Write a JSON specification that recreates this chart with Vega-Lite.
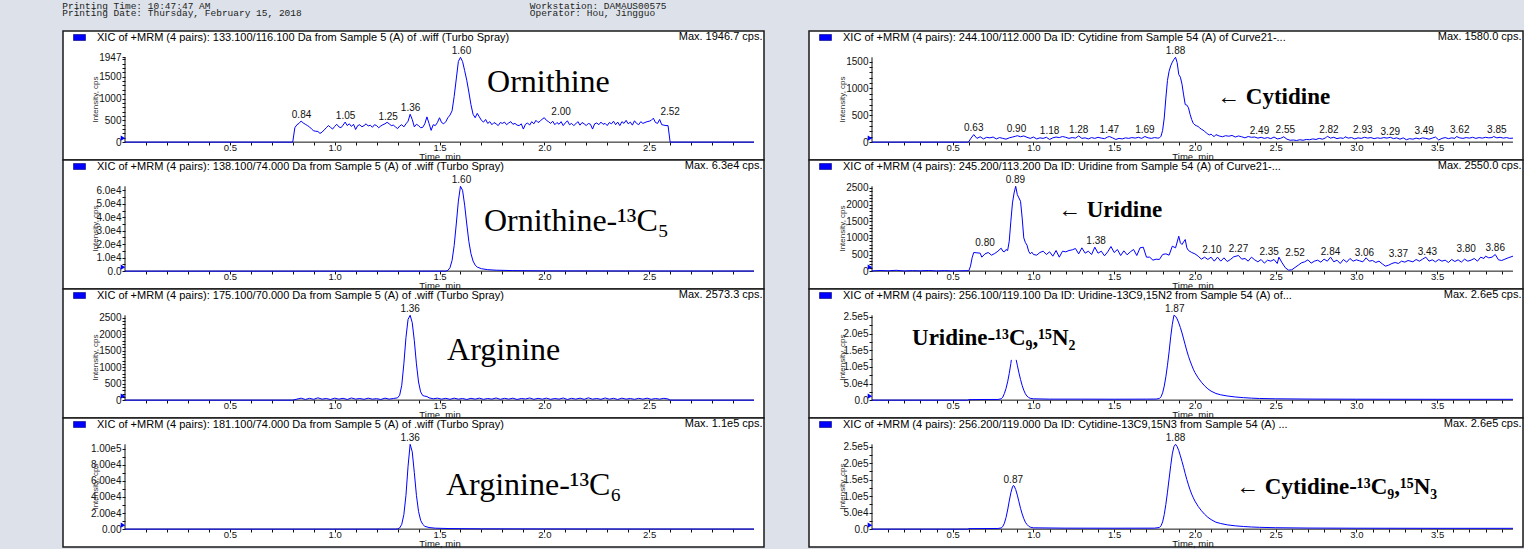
{
"$schema": "https://vega.github.io/schema/vega-lite/v6.json",
"background": "#dde2ea",
"padding": {"left": 62, "top": 0, "right": 0, "bottom": 0},
"title": {"text": ["Printing Time: 10:47:47 AM\u00a0\u00a0\u00a0\u00a0\u00a0\u00a0\u00a0\u00a0\u00a0\u00a0\u00a0\u00a0\u00a0\u00a0\u00a0\u00a0\u00a0\u00a0\u00a0\u00a0\u00a0\u00a0\u00a0\u00a0\u00a0\u00a0\u00a0\u00a0\u00a0\u00a0\u00a0\u00a0\u00a0\u00a0\u00a0\u00a0\u00a0\u00a0\u00a0\u00a0\u00a0\u00a0\u00a0\u00a0\u00a0\u00a0\u00a0\u00a0\u00a0\u00a0\u00a0\u00a0\u00a0\u00a0\u00a0\u00a0Workstation: DAMAUS00575", "Printing Date: Thursday, February 15, 2018\u00a0\u00a0\u00a0\u00a0\u00a0\u00a0\u00a0\u00a0\u00a0\u00a0\u00a0\u00a0\u00a0\u00a0\u00a0\u00a0\u00a0\u00a0\u00a0\u00a0\u00a0\u00a0\u00a0\u00a0\u00a0\u00a0\u00a0\u00a0\u00a0\u00a0\u00a0\u00a0\u00a0\u00a0\u00a0\u00a0\u00a0\u00a0\u00a0\u00a0Operator: Hou, Jingguo"], "anchor": "start", "frame": "bounds", "font": "Liberation Mono", "fontSize": 9.5, "fontWeight": "normal", "color": "#222222", "lineHeight": 7.5, "offset": 12, "baseline": "top"},
"config": {
 "font": "Liberation Sans",
 "view": {"fill": "#ffffff", "stroke": "#1a1a1a", "strokeWidth": 1.5},
 "axis": {"labelFont": "Liberation Sans", "labelFontSize": 10, "labelColor": "#111111", "tickColor": "#111111", "tickWidth": 1, "titleFont": "Liberation Sans", "titleFontWeight": "normal", "titleColor": "#111111", "grid": false, "labelOverlap": false, "labelFlush": false, "labelBound": false},
 "legend": {"orient": "top-left", "offset": 0, "padding": 0, "symbolType": "M-1,-0.5H1V0.5H-1Z", "symbolSize": 144, "symbolOffset": 10, "labelOffset": 11, "labelFont": "Liberation Sans", "labelFontSize": 11, "labelColor": "#000000", "labelLimit": 800, "symbolOpacity": 1, "symbolStrokeColor": "#00007a", "symbolStrokeWidth": 0.6, "rowPadding": 0, "titlePadding": 0},
 "text": {"font": "Liberation Sans"}
},
"datasets": {
 "L1": [{"t":0,"v":0},{"t":0.8,"v":0},{"t":0.81,"v":330},{"t":0.82,"v":400},{"t":0.83,"v":430},{"t":0.84,"v":485},{"t":0.85,"v":440},{"t":0.86,"v":410},{"t":0.87,"v":380},{"t":0.88,"v":350},{"t":0.89,"v":300},{"t":0.9,"v":260},{"t":0.91,"v":250},{"t":0.92,"v":245},{"t":0.93,"v":200},{"t":0.94,"v":230},{"t":0.95,"v":280},{"t":0.96,"v":330},{"t":0.97,"v":380},{"t":0.98,"v":340},{"t":0.99,"v":300},{"t":1.0,"v":360},{"t":1.01,"v":410},{"t":1.02,"v":350},{"t":1.03,"v":330},{"t":1.04,"v":390},{"t":1.05,"v":460},{"t":1.06,"v":380},{"t":1.07,"v":420},{"t":1.08,"v":360},{"t":1.09,"v":410},{"t":1.1,"v":290},{"t":1.11,"v":380},{"t":1.12,"v":400},{"t":1.13,"v":350},{"t":1.14,"v":380},{"t":1.15,"v":420},{"t":1.16,"v":370},{"t":1.17,"v":390},{"t":1.18,"v":340},{"t":1.19,"v":400},{"t":1.2,"v":380},{"t":1.21,"v":330},{"t":1.22,"v":370},{"t":1.23,"v":400},{"t":1.24,"v":420},{"t":1.25,"v":455},{"t":1.26,"v":420},{"t":1.27,"v":380},{"t":1.28,"v":390},{"t":1.29,"v":350},{"t":1.3,"v":310},{"t":1.31,"v":370},{"t":1.32,"v":400},{"t":1.33,"v":350},{"t":1.34,"v":420},{"t":1.35,"v":480},{"t":1.36,"v":640},{"t":1.37,"v":520},{"t":1.38,"v":350},{"t":1.39,"v":410},{"t":1.4,"v":380},{"t":1.41,"v":330},{"t":1.42,"v":340},{"t":1.43,"v":420},{"t":1.44,"v":580},{"t":1.45,"v":430},{"t":1.46,"v":270},{"t":1.47,"v":400},{"t":1.48,"v":380},{"t":1.49,"v":450},{"t":1.5,"v":560},{"t":1.51,"v":450},{"t":1.52,"v":420},{"t":1.53,"v":470},{"t":1.54,"v":560},{"t":1.55,"v":620},{"t":1.56,"v":720},{"t":1.57,"v":1050},{"t":1.58,"v":1450},{"t":1.59,"v":1850},{"t":1.6,"v":1947},{"t":1.61,"v":1850},{"t":1.62,"v":1640},{"t":1.63,"v":1420},{"t":1.64,"v":1150},{"t":1.65,"v":860},{"t":1.66,"v":640},{"t":1.67,"v":560},{"t":1.68,"v":660},{"t":1.69,"v":580},{"t":1.7,"v":500},{"t":1.71,"v":460},{"t":1.72,"v":520},{"t":1.73,"v":430},{"t":1.74,"v":470},{"t":1.75,"v":400},{"t":1.76,"v":450},{"t":1.77,"v":420},{"t":1.78,"v":380},{"t":1.79,"v":450},{"t":1.8,"v":430},{"t":1.81,"v":460},{"t":1.82,"v":400},{"t":1.83,"v":440},{"t":1.84,"v":470},{"t":1.85,"v":410},{"t":1.86,"v":430},{"t":1.87,"v":390},{"t":1.88,"v":380},{"t":1.89,"v":420},{"t":1.9,"v":300},{"t":1.91,"v":410},{"t":1.92,"v":440},{"t":1.93,"v":390},{"t":1.94,"v":470},{"t":1.95,"v":420},{"t":1.96,"v":500},{"t":1.97,"v":450},{"t":1.98,"v":480},{"t":1.99,"v":530},{"t":2.0,"v":560},{"t":2.01,"v":500},{"t":2.02,"v":470},{"t":2.03,"v":430},{"t":2.04,"v":480},{"t":2.05,"v":400},{"t":2.06,"v":450},{"t":2.07,"v":410},{"t":2.08,"v":470},{"t":2.09,"v":380},{"t":2.1,"v":440},{"t":2.11,"v":490},{"t":2.12,"v":400},{"t":2.13,"v":430},{"t":2.14,"v":380},{"t":2.15,"v":420},{"t":2.16,"v":470},{"t":2.17,"v":390},{"t":2.18,"v":450},{"t":2.19,"v":420},{"t":2.2,"v":380},{"t":2.21,"v":430},{"t":2.22,"v":410},{"t":2.23,"v":300},{"t":2.24,"v":420},{"t":2.25,"v":440},{"t":2.26,"v":400},{"t":2.27,"v":460},{"t":2.28,"v":410},{"t":2.29,"v":430},{"t":2.3,"v":380},{"t":2.31,"v":450},{"t":2.32,"v":420},{"t":2.33,"v":480},{"t":2.34,"v":400},{"t":2.35,"v":460},{"t":2.36,"v":380},{"t":2.37,"v":470},{"t":2.38,"v":430},{"t":2.39,"v":500},{"t":2.4,"v":420},{"t":2.41,"v":460},{"t":2.42,"v":390},{"t":2.43,"v":490},{"t":2.44,"v":430},{"t":2.45,"v":400},{"t":2.46,"v":470},{"t":2.47,"v":430},{"t":2.48,"v":450},{"t":2.49,"v":470},{"t":2.5,"v":480},{"t":2.51,"v":500},{"t":2.52,"v":550},{"t":2.53,"v":450},{"t":2.54,"v":430},{"t":2.55,"v":520},{"t":2.56,"v":400},{"t":2.57,"v":390},{"t":2.58,"v":380},{"t":2.59,"v":380},{"t":2.6,"v":0},{"t":3.0,"v":0}],
 "L2": [{"t":0,"v":0},{"t":1.53,"v":0},{"t":1.54,"v":600},{"t":1.55,"v":2500},{"t":1.56,"v":8000},{"t":1.57,"v":19000},{"t":1.58,"v":35000},{"t":1.59,"v":52000},{"t":1.6,"v":63000},{"t":1.61,"v":60000},{"t":1.62,"v":49000},{"t":1.63,"v":35000},{"t":1.64,"v":22000},{"t":1.65,"v":13000},{"t":1.66,"v":7500},{"t":1.67,"v":4500},{"t":1.68,"v":3000},{"t":1.7,"v":1800},{"t":1.73,"v":1100},{"t":1.77,"v":700},{"t":1.85,"v":400},{"t":2.0,"v":200},{"t":2.5,"v":100},{"t":3.0,"v":60}],
 "L3": [{"t":0,"v":0},{"t":0.8,"v":0},{"t":0.82,"v":30},{"t":0.84,"v":60},{"t":0.86,"v":20},{"t":0.88,"v":55},{"t":0.9,"v":25},{"t":0.92,"v":70},{"t":0.94,"v":30},{"t":0.96,"v":50},{"t":0.98,"v":20},{"t":1.0,"v":60},{"t":1.02,"v":30},{"t":1.04,"v":55},{"t":1.06,"v":20},{"t":1.08,"v":65},{"t":1.1,"v":30},{"t":1.12,"v":50},{"t":1.14,"v":25},{"t":1.16,"v":60},{"t":1.18,"v":30},{"t":1.2,"v":45},{"t":1.22,"v":20},{"t":1.24,"v":60},{"t":1.26,"v":30},{"t":1.28,"v":50},{"t":1.3,"v":70},{"t":1.31,"v":150},{"t":1.32,"v":450},{"t":1.33,"v":1100},{"t":1.34,"v":1900},{"t":1.35,"v":2450},{"t":1.36,"v":2573.3},{"t":1.37,"v":2350},{"t":1.38,"v":1800},{"t":1.39,"v":1100},{"t":1.4,"v":550},{"t":1.41,"v":250},{"t":1.42,"v":140},{"t":1.43,"v":120},{"t":1.44,"v":110},{"t":1.45,"v":70},{"t":1.47,"v":40},{"t":1.49,"v":60},{"t":1.51,"v":30},{"t":1.53,"v":55},{"t":1.55,"v":25},{"t":1.57,"v":60},{"t":1.59,"v":30},{"t":1.61,"v":50},{"t":1.63,"v":20},{"t":1.65,"v":55},{"t":1.67,"v":30},{"t":1.69,"v":60},{"t":1.71,"v":25},{"t":1.73,"v":50},{"t":1.75,"v":30},{"t":1.77,"v":65},{"t":1.79,"v":25},{"t":1.81,"v":55},{"t":1.83,"v":30},{"t":1.85,"v":60},{"t":1.87,"v":20},{"t":1.89,"v":50},{"t":1.91,"v":35},{"t":1.93,"v":65},{"t":1.95,"v":25},{"t":1.97,"v":55},{"t":1.99,"v":30},{"t":2.01,"v":60},{"t":2.03,"v":25},{"t":2.05,"v":50},{"t":2.07,"v":30},{"t":2.09,"v":65},{"t":2.11,"v":20},{"t":2.13,"v":55},{"t":2.15,"v":30},{"t":2.17,"v":60},{"t":2.19,"v":25},{"t":2.21,"v":70},{"t":2.23,"v":30},{"t":2.25,"v":50},{"t":2.27,"v":25},{"t":2.29,"v":65},{"t":2.31,"v":30},{"t":2.33,"v":55},{"t":2.35,"v":20},{"t":2.37,"v":60},{"t":2.39,"v":30},{"t":2.41,"v":50},{"t":2.43,"v":25},{"t":2.45,"v":55},{"t":2.47,"v":30},{"t":2.49,"v":60},{"t":2.51,"v":25},{"t":2.53,"v":50},{"t":2.55,"v":30},{"t":2.57,"v":55},{"t":2.59,"v":35},{"t":2.6,"v":0},{"t":3.0,"v":0}],
 "L4": [{"t":0,"v":0},{"t":1.29,"v":0},{"t":1.3,"v":300},{"t":1.31,"v":1500},{"t":1.32,"v":6000},{"t":1.33,"v":18000},{"t":1.34,"v":42000},{"t":1.35,"v":78000},{"t":1.36,"v":105300},{"t":1.37,"v":96000},{"t":1.38,"v":70000},{"t":1.39,"v":42000},{"t":1.4,"v":22000},{"t":1.41,"v":11000},{"t":1.42,"v":6000},{"t":1.43,"v":3500},{"t":1.45,"v":2000},{"t":1.48,"v":1200},{"t":1.55,"v":700},{"t":1.7,"v":400},{"t":2.0,"v":250},{"t":2.5,"v":150},{"t":3.0,"v":100}],
 "R1": [{"t":0,"v":0},{"t":0.59,"v":0},{"t":0.6,"v":10},{"t":0.61,"v":60},{"t":0.63,"v":140},{"t":0.65,"v":70},{"t":0.67,"v":100},{"t":0.69,"v":60},{"t":0.71,"v":90},{"t":0.73,"v":80},{"t":0.75,"v":95},{"t":0.77,"v":60},{"t":0.79,"v":85},{"t":0.81,"v":70},{"t":0.83,"v":55},{"t":0.85,"v":80},{"t":0.87,"v":95},{"t":0.89,"v":110},{"t":0.9,"v":120},{"t":0.92,"v":100},{"t":0.94,"v":115},{"t":0.96,"v":90},{"t":0.98,"v":70},{"t":1.0,"v":95},{"t":1.02,"v":60},{"t":1.04,"v":80},{"t":1.06,"v":70},{"t":1.08,"v":90},{"t":1.1,"v":50},{"t":1.12,"v":80},{"t":1.14,"v":95},{"t":1.16,"v":85},{"t":1.18,"v":105},{"t":1.2,"v":90},{"t":1.22,"v":70},{"t":1.24,"v":85},{"t":1.26,"v":75},{"t":1.28,"v":115},{"t":1.3,"v":70},{"t":1.32,"v":80},{"t":1.34,"v":60},{"t":1.36,"v":85},{"t":1.38,"v":70},{"t":1.4,"v":90},{"t":1.42,"v":75},{"t":1.44,"v":65},{"t":1.46,"v":95},{"t":1.47,"v":105},{"t":1.49,"v":80},{"t":1.51,"v":50},{"t":1.53,"v":70},{"t":1.55,"v":60},{"t":1.57,"v":80},{"t":1.59,"v":70},{"t":1.61,"v":85},{"t":1.63,"v":75},{"t":1.65,"v":90},{"t":1.67,"v":70},{"t":1.69,"v":105},{"t":1.71,"v":80},{"t":1.73,"v":70},{"t":1.75,"v":85},{"t":1.77,"v":75},{"t":1.78,"v":80},{"t":1.79,"v":110},{"t":1.8,"v":220},{"t":1.81,"v":450},{"t":1.82,"v":820},{"t":1.83,"v":1150},{"t":1.84,"v":1320},{"t":1.85,"v":1420},{"t":1.86,"v":1490},{"t":1.87,"v":1540},{"t":1.88,"v":1580},{"t":1.89,"v":1480},{"t":1.9,"v":1260},{"t":1.91,"v":1210},{"t":1.92,"v":1080},{"t":1.93,"v":880},{"t":1.94,"v":700},{"t":1.95,"v":690},{"t":1.96,"v":640},{"t":1.97,"v":520},{"t":1.98,"v":420},{"t":1.99,"v":350},{"t":2.0,"v":320},{"t":2.01,"v":305},{"t":2.02,"v":290},{"t":2.03,"v":265},{"t":2.04,"v":240},{"t":2.05,"v":225},{"t":2.06,"v":200},{"t":2.07,"v":175},{"t":2.08,"v":150},{"t":2.09,"v":135},{"t":2.1,"v":150},{"t":2.11,"v":120},{"t":2.12,"v":105},{"t":2.13,"v":140},{"t":2.15,"v":115},{"t":2.17,"v":100},{"t":2.19,"v":120},{"t":2.21,"v":110},{"t":2.23,"v":125},{"t":2.25,"v":95},{"t":2.27,"v":115},{"t":2.29,"v":100},{"t":2.31,"v":80},{"t":2.33,"v":105},{"t":2.35,"v":90},{"t":2.37,"v":95},{"t":2.39,"v":75},{"t":2.41,"v":90},{"t":2.43,"v":70},{"t":2.45,"v":85},{"t":2.47,"v":65},{"t":2.49,"v":95},{"t":2.51,"v":60},{"t":2.53,"v":70},{"t":2.55,"v":100},{"t":2.57,"v":55},{"t":2.59,"v":35},{"t":2.61,"v":40},{"t":2.63,"v":30},{"t":2.65,"v":45},{"t":2.67,"v":35},{"t":2.69,"v":50},{"t":2.71,"v":45},{"t":2.73,"v":60},{"t":2.75,"v":50},{"t":2.77,"v":70},{"t":2.79,"v":55},{"t":2.81,"v":80},{"t":2.82,"v":110},{"t":2.84,"v":75},{"t":2.86,"v":90},{"t":2.88,"v":65},{"t":2.9,"v":80},{"t":2.92,"v":70},{"t":2.93,"v":100},{"t":2.95,"v":75},{"t":2.97,"v":85},{"t":2.99,"v":60},{"t":3.01,"v":80},{"t":3.03,"v":70},{"t":3.05,"v":90},{"t":3.07,"v":75},{"t":3.09,"v":85},{"t":3.11,"v":65},{"t":3.13,"v":80},{"t":3.15,"v":70},{"t":3.17,"v":85},{"t":3.19,"v":75},{"t":3.21,"v":90},{"t":3.23,"v":65},{"t":3.25,"v":80},{"t":3.27,"v":55},{"t":3.29,"v":80},{"t":3.31,"v":45},{"t":3.33,"v":65},{"t":3.35,"v":55},{"t":3.37,"v":75},{"t":3.39,"v":60},{"t":3.41,"v":80},{"t":3.43,"v":70},{"t":3.45,"v":55},{"t":3.47,"v":75},{"t":3.49,"v":95},{"t":3.51,"v":40},{"t":3.53,"v":70},{"t":3.55,"v":85},{"t":3.57,"v":65},{"t":3.59,"v":80},{"t":3.61,"v":70},{"t":3.62,"v":105},{"t":3.64,"v":80},{"t":3.66,"v":70},{"t":3.68,"v":85},{"t":3.7,"v":75},{"t":3.72,"v":90},{"t":3.74,"v":70},{"t":3.76,"v":85},{"t":3.78,"v":75},{"t":3.8,"v":90},{"t":3.82,"v":80},{"t":3.84,"v":85},{"t":3.85,"v":105},{"t":3.87,"v":80},{"t":3.89,"v":90},{"t":3.91,"v":75},{"t":3.93,"v":85},{"t":3.95,"v":70},{"t":3.97,"v":75}],
 "R2": [{"t":0,"v":5},{"t":0.05,"v":20},{"t":0.1,"v":10},{"t":0.15,"v":25},{"t":0.2,"v":5},{"t":0.25,"v":15},{"t":0.3,"v":8},{"t":0.35,"v":20},{"t":0.4,"v":5},{"t":0.45,"v":15},{"t":0.5,"v":5},{"t":0.55,"v":10},{"t":0.6,"v":15},{"t":0.61,"v":150},{"t":0.62,"v":400},{"t":0.63,"v":560},{"t":0.65,"v":550},{"t":0.67,"v":540},{"t":0.68,"v":420},{"t":0.7,"v":520},{"t":0.72,"v":560},{"t":0.74,"v":480},{"t":0.76,"v":530},{"t":0.78,"v":600},{"t":0.8,"v":690},{"t":0.81,"v":600},{"t":0.82,"v":580},{"t":0.83,"v":650},{"t":0.84,"v":620},{"t":0.85,"v":900},{"t":0.86,"v":1500},{"t":0.87,"v":2050},{"t":0.88,"v":2350},{"t":0.89,"v":2550},{"t":0.9,"v":2300},{"t":0.91,"v":2200},{"t":0.92,"v":2100},{"t":0.93,"v":1600},{"t":0.94,"v":1000},{"t":0.95,"v":860},{"t":0.96,"v":780},{"t":0.97,"v":600},{"t":0.98,"v":520},{"t":0.99,"v":570},{"t":1.0,"v":500},{"t":1.02,"v":480},{"t":1.04,"v":560},{"t":1.06,"v":600},{"t":1.08,"v":500},{"t":1.1,"v":580},{"t":1.12,"v":450},{"t":1.14,"v":620},{"t":1.16,"v":420},{"t":1.18,"v":600},{"t":1.2,"v":580},{"t":1.22,"v":620},{"t":1.24,"v":640},{"t":1.26,"v":680},{"t":1.28,"v":520},{"t":1.3,"v":700},{"t":1.32,"v":540},{"t":1.34,"v":600},{"t":1.36,"v":500},{"t":1.38,"v":720},{"t":1.4,"v":540},{"t":1.42,"v":600},{"t":1.44,"v":460},{"t":1.46,"v":580},{"t":1.48,"v":740},{"t":1.5,"v":560},{"t":1.52,"v":650},{"t":1.54,"v":470},{"t":1.56,"v":610},{"t":1.58,"v":490},{"t":1.6,"v":580},{"t":1.62,"v":650},{"t":1.64,"v":470},{"t":1.66,"v":700},{"t":1.68,"v":720},{"t":1.7,"v":420},{"t":1.72,"v":420},{"t":1.74,"v":330},{"t":1.76,"v":360},{"t":1.78,"v":350},{"t":1.8,"v":500},{"t":1.82,"v":520},{"t":1.84,"v":480},{"t":1.86,"v":750},{"t":1.88,"v":700},{"t":1.9,"v":1050},{"t":1.91,"v":850},{"t":1.92,"v":800},{"t":1.93,"v":880},{"t":1.94,"v":950},{"t":1.95,"v":700},{"t":1.96,"v":620},{"t":1.98,"v":560},{"t":2.0,"v":520},{"t":2.02,"v":450},{"t":2.04,"v":360},{"t":2.06,"v":420},{"t":2.08,"v":350},{"t":2.1,"v":420},{"t":2.12,"v":300},{"t":2.14,"v":420},{"t":2.16,"v":300},{"t":2.18,"v":400},{"t":2.2,"v":290},{"t":2.22,"v":350},{"t":2.24,"v":430},{"t":2.27,"v":470},{"t":2.29,"v":360},{"t":2.31,"v":380},{"t":2.33,"v":300},{"t":2.35,"v":420},{"t":2.37,"v":340},{"t":2.39,"v":280},{"t":2.41,"v":350},{"t":2.43,"v":240},{"t":2.45,"v":330},{"t":2.47,"v":300},{"t":2.49,"v":350},{"t":2.51,"v":230},{"t":2.52,"v":420},{"t":2.54,"v":250},{"t":2.56,"v":100},{"t":2.58,"v":30},{"t":2.6,"v":40},{"t":2.62,"v":110},{"t":2.64,"v":180},{"t":2.66,"v":250},{"t":2.68,"v":280},{"t":2.7,"v":340},{"t":2.72,"v":240},{"t":2.74,"v":300},{"t":2.76,"v":330},{"t":2.78,"v":270},{"t":2.8,"v":360},{"t":2.82,"v":300},{"t":2.84,"v":420},{"t":2.86,"v":280},{"t":2.88,"v":330},{"t":2.9,"v":230},{"t":2.92,"v":350},{"t":2.94,"v":270},{"t":2.96,"v":380},{"t":2.98,"v":300},{"t":3.0,"v":340},{"t":3.02,"v":310},{"t":3.04,"v":280},{"t":3.06,"v":400},{"t":3.08,"v":300},{"t":3.1,"v":320},{"t":3.12,"v":260},{"t":3.14,"v":300},{"t":3.16,"v":220},{"t":3.18,"v":150},{"t":3.2,"v":180},{"t":3.22,"v":230},{"t":3.24,"v":260},{"t":3.26,"v":230},{"t":3.28,"v":300},{"t":3.3,"v":270},{"t":3.32,"v":320},{"t":3.35,"v":280},{"t":3.37,"v":350},{"t":3.39,"v":300},{"t":3.41,"v":360},{"t":3.43,"v":420},{"t":3.45,"v":300},{"t":3.47,"v":340},{"t":3.49,"v":280},{"t":3.51,"v":350},{"t":3.53,"v":300},{"t":3.55,"v":330},{"t":3.57,"v":260},{"t":3.59,"v":350},{"t":3.61,"v":290},{"t":3.63,"v":340},{"t":3.65,"v":270},{"t":3.67,"v":360},{"t":3.69,"v":300},{"t":3.71,"v":330},{"t":3.73,"v":380},{"t":3.75,"v":300},{"t":3.77,"v":420},{"t":3.79,"v":380},{"t":3.8,"v":450},{"t":3.82,"v":400},{"t":3.84,"v":420},{"t":3.86,"v":500},{"t":3.88,"v":340},{"t":3.9,"v":320},{"t":3.92,"v":360},{"t":3.94,"v":400},{"t":3.97,"v":450}],
 "R3": [{"t":0,"v":0},{"t":0.59,"v":0},{"t":0.6,"v":1500},{"t":0.7,"v":2000},{"t":0.78,"v":2000},{"t":0.8,"v":4000},{"t":0.81,"v":9000},{"t":0.82,"v":20000},{"t":0.83,"v":35000},{"t":0.84,"v":55000},{"t":0.85,"v":80000},{"t":0.86,"v":110000},{"t":0.863,"v":121000},{"t":0.878,"v":null},{"t":0.893,"v":121000},{"t":0.9,"v":105000},{"t":0.91,"v":82000},{"t":0.92,"v":62000},{"t":0.93,"v":44000},{"t":0.94,"v":30000},{"t":0.95,"v":19000},{"t":0.96,"v":12000},{"t":0.97,"v":8000},{"t":0.98,"v":5500},{"t":1.0,"v":4000},{"t":1.1,"v":3000},{"t":1.3,"v":3000},{"t":1.5,"v":2800},{"t":1.7,"v":3000},{"t":1.76,"v":3200},{"t":1.78,"v":5000},{"t":1.79,"v":10000},{"t":1.8,"v":22000},{"t":1.81,"v":42000},{"t":1.82,"v":70000},{"t":1.83,"v":105000},{"t":1.84,"v":145000},{"t":1.85,"v":190000},{"t":1.86,"v":228000},{"t":1.87,"v":255000},{"t":1.88,"v":252000},{"t":1.89,"v":244000},{"t":1.9,"v":232000},{"t":1.91,"v":218000},{"t":1.92,"v":202000},{"t":1.93,"v":184000},{"t":1.94,"v":166000},{"t":1.95,"v":148000},{"t":1.96,"v":132000},{"t":1.97,"v":118000},{"t":1.98,"v":105000},{"t":1.99,"v":93000},{"t":2.0,"v":83000},{"t":2.02,"v":67000},{"t":2.04,"v":54000},{"t":2.06,"v":43000},{"t":2.08,"v":34000},{"t":2.1,"v":27000},{"t":2.13,"v":20000},{"t":2.16,"v":16000},{"t":2.2,"v":12500},{"t":2.25,"v":9500},{"t":2.3,"v":7500},{"t":2.35,"v":6000},{"t":2.4,"v":5000},{"t":2.5,"v":4000},{"t":2.7,"v":3200},{"t":3.0,"v":2800},{"t":3.5,"v":2500},{"t":3.97,"v":2500}],
 "R4": [{"t":0,"v":0},{"t":0.59,"v":0},{"t":0.6,"v":1500},{"t":0.78,"v":2000},{"t":0.8,"v":3500},{"t":0.81,"v":8000},{"t":0.82,"v":18000},{"t":0.83,"v":35000},{"t":0.84,"v":58000},{"t":0.85,"v":85000},{"t":0.86,"v":110000},{"t":0.87,"v":128000},{"t":0.875,"v":132000},{"t":0.88,"v":131000},{"t":0.89,"v":120000},{"t":0.9,"v":103000},{"t":0.91,"v":83000},{"t":0.92,"v":63000},{"t":0.93,"v":46000},{"t":0.94,"v":32000},{"t":0.95,"v":21000},{"t":0.96,"v":14000},{"t":0.97,"v":9000},{"t":0.98,"v":6000},{"t":1.0,"v":4000},{"t":1.2,"v":3000},{"t":1.5,"v":2800},{"t":1.75,"v":3000},{"t":1.78,"v":5000},{"t":1.79,"v":10000},{"t":1.8,"v":22000},{"t":1.81,"v":44000},{"t":1.82,"v":75000},{"t":1.83,"v":112000},{"t":1.84,"v":152000},{"t":1.85,"v":192000},{"t":1.86,"v":228000},{"t":1.87,"v":250000},{"t":1.88,"v":257000},{"t":1.89,"v":250000},{"t":1.9,"v":238000},{"t":1.91,"v":222000},{"t":1.92,"v":205000},{"t":1.93,"v":187000},{"t":1.94,"v":168000},{"t":1.95,"v":150000},{"t":1.96,"v":134000},{"t":1.97,"v":119000},{"t":1.98,"v":106000},{"t":1.99,"v":95000},{"t":2.0,"v":85000},{"t":2.02,"v":69000},{"t":2.04,"v":56000},{"t":2.06,"v":45000},{"t":2.08,"v":36000},{"t":2.1,"v":29000},{"t":2.13,"v":21000},{"t":2.16,"v":17000},{"t":2.2,"v":13000},{"t":2.25,"v":10000},{"t":2.3,"v":8000},{"t":2.35,"v":6500},{"t":2.4,"v":5500},{"t":2.5,"v":4300},{"t":2.7,"v":3300},{"t":3.0,"v":2800},{"t":3.5,"v":2500},{"t":3.97,"v":2500}],
 "pk": [{"p":"L1","t":0.842,"v":482,"txt":"0.84"},{"p":"L1","t":1.052,"v":468,"txt":"1.05"},{"p":"L1","t":1.255,"v":445,"txt":"1.25"},{"p":"L1","t":1.362,"v":640,"txt":"1.36"},{"p":"L1","t":1.605,"v":1947,"txt":"1.60"},{"p":"L1","t":2.08,"v":560,"txt":"2.00"},{"p":"L1","t":2.6,"v":560,"txt":"2.52"},{"p":"L2","t":1.605,"v":63000,"txt":"1.60"},{"p":"L3","t":1.36,"v":2573.3,"txt":"1.36"},{"p":"L4","t":1.36,"v":105300,"txt":"1.36"},{"p":"R1","t":0.63,"v":150,"txt":"0.63"},{"p":"R1","t":0.895,"v":125,"txt":"0.90"},{"p":"R1","t":1.1,"v":105,"txt":"1.18"},{"p":"R1","t":1.28,"v":120,"txt":"1.28"},{"p":"R1","t":1.47,"v":120,"txt":"1.47"},{"p":"R1","t":1.69,"v":120,"txt":"1.69"},{"p":"R1","t":1.88,"v":1580,"txt":"1.88"},{"p":"R1","t":2.4,"v":105,"txt":"2.49"},{"p":"R1","t":2.56,"v":115,"txt":"2.55"},{"p":"R1","t":2.83,"v":120,"txt":"2.82"},{"p":"R1","t":3.04,"v":115,"txt":"2.93"},{"p":"R1","t":3.21,"v":85,"txt":"3.29"},{"p":"R1","t":3.42,"v":105,"txt":"3.49"},{"p":"R1","t":3.64,"v":120,"txt":"3.62"},{"p":"R1","t":3.87,"v":120,"txt":"3.85"},{"p":"R2","t":0.7,"v":660,"txt":"0.80"},{"p":"R2","t":0.888,"v":2550,"txt":"0.89"},{"p":"R2","t":1.388,"v":730,"txt":"1.38"},{"p":"R2","t":2.105,"v":460,"txt":"2.10"},{"p":"R2","t":2.27,"v":480,"txt":"2.27"},{"p":"R2","t":2.46,"v":380,"txt":"2.35"},{"p":"R2","t":2.62,"v":350,"txt":"2.52"},{"p":"R2","t":2.84,"v":380,"txt":"2.84"},{"p":"R2","t":3.05,"v":350,"txt":"3.06"},{"p":"R2","t":3.26,"v":330,"txt":"3.37"},{"p":"R2","t":3.44,"v":380,"txt":"3.43"},{"p":"R2","t":3.68,"v":480,"txt":"3.80"},{"p":"R2","t":3.86,"v":510,"txt":"3.86"},{"p":"R3","t":1.875,"v":255000,"txt":"1.87"},{"p":"R4","t":0.875,"v":132000,"txt":"0.87"},{"p":"R4","t":1.88,"v":257000,"txt":"1.88"}],
 "nm": [{"p":"L1","t":1.727,"v":1143,"txt":"Ornithine"},{"p":"L2","t":1.712,"v":29490,"txt":"Ornithine-\u00b9\u00b3C\u2085"},{"p":"L3","t":1.536,"v":1220,"txt":"Arginine"},{"p":"L4","t":1.531,"v":42470,"txt":"Arginine-\u00b9\u00b3C\u2086"},{"p":"R1","t":2.137,"v":713,"txt":"\u2190 Cytidine"},{"p":"R2","t":1.152,"v":1616,"txt":"\u2190 Uridine"},{"p":"R3","t":0.248,"v":164600,"txt":"Uridine-\u00b9\u00b3C\u2089,\u00b9\u2075N\u2082"},{"p":"R4","t":2.255,"v":105000,"txt":"\u2190 Cytidine-\u00b9\u00b3C\u2089,\u00b9\u2075N\u2083"}]
},
"hconcat": [
{"vconcat": [
 {"width": 701, "height": 129, "resolve": {"axis": {"x": "independent", "y": "independent"}}, "layer": [
  {"data": {"values": [{}]}, "mark": {"type": "rule", "color": "#111111", "strokeWidth": 1}, "encoding": {
   "x": {"datum": 0, "type": "quantitative", "scale": {"domain": [-0.29571, 3.04769], "nice": false, "zero": false}, "axis": {"orient": "top", "domain": false, "ticks": false, "labels": false, "title": "Max. 1946.7 cps.", "titleX": 699, "titleY": 5.5, "titleAlign": "right", "titleBaseline": "middle", "titleFontSize": 11, "titleColor": "#000000"}},
   "x2": {"datum": 3.0},
   "y": {"datum": 0, "type": "quantitative", "scale": {"domain": [-409.9, 2550.5], "nice": false, "zero": false}, "axis": null}}},
  {"data": {"values": [{}]}, "mark": {"type": "rule", "color": "#111111", "strokeWidth": 1}, "encoding": {
   "x": {"datum": 0, "type": "quantitative", "scale": {"domain": [-0.29571, 3.04769], "nice": false, "zero": false}, "axis": null},
   "y": {"datum": 0, "type": "quantitative", "scale": {"domain": [-409.9, 2550.5], "nice": false, "zero": false}, "axis": null},
   "y2": {"datum": 1947}}},
  {"data": {"name": "L1"}, "mark": {"type": "line", "color": "#0000ff", "strokeWidth": 1, "invalid": "break-paths-show-domains"}, "encoding": {
   "x": {"field": "t", "type": "quantitative", "scale": {"domain": [-0.29571, 3.04769], "nice": false, "zero": false}, "axis": {"values": [0.1,0.2,0.3,0.4,0.5,0.6,0.7,0.8,0.9,1.0,1.1,1.2,1.3,1.4,1.5,1.6,1.7,1.8,1.9,2.0,2.1,2.2,2.3,2.4,2.5,2.6,2.7,2.8,2.9], "labelExpr": "abs(datum.value * 2 - round(datum.value * 2)) < 0.001 ? format(datum.value, '.1f') : ''", "offset": -18, "domain": false, "tickSize": 3, "labelPadding": -3, "labelFontSize": 9.5, "title": "Time, min", "titleFontSize": 9.5, "titleX": 376.5, "titleY": 14, "titleAlign": "center", "titleBaseline": "middle"}},
   "y": {"field": "v", "type": "quantitative", "scale": {"domain": [-409.9, 2550.5], "nice": false, "zero": false}, "axis": {"values": [0,100,200,300,400,500,600,700,800,900,1000,1100,1200,1300,1400,1500,1600,1700,1800,1900,1947], "labelExpr": "datum.value % 500 === 0 || datum.value === 1947 ? format(datum.value, 'd') : ''", "offset": -62, "domain": false, "tickSize": 3, "labelPadding": 1, "title": "Intensity, cps", "titleFontSize": 8, "titleColor": "#333333", "titleX": -30, "titleY": 68, "titleAlign": "center", "titleBaseline": "middle", "titleAngle": 270}}}},
  {"data": {"values": [{}]}, "mark": {"type": "point", "shape": "triangle-right", "filled": true, "size": 28, "opacity": 1, "xOffset": -2}, "encoding": {
   "x": {"datum": 0, "type": "quantitative", "scale": {"domain": [-0.29571, 3.04769], "nice": false, "zero": false}, "axis": null},
   "y": {"datum": 92, "type": "quantitative", "scale": {"domain": [-409.9, 2550.5], "nice": false, "zero": false}, "axis": null},
   "color": {"datum": "XIC of +MRM (4 pairs): 133.100/116.100 Da  from Sample 5 (A) of .wiff (Turbo Spray)", "type": "nominal", "scale": {"range": ["#0000ff"]}, "legend": {"title": null}}}},
  {"data": {"name": "pk"}, "transform": [{"filter": "datum.p === 'L1'"}], "mark": {"type": "text", "baseline": "bottom", "dy": -1, "fontSize": 10, "color": "#111111"}, "encoding": {
   "x": {"field": "t", "type": "quantitative", "scale": {"domain": [-0.29571, 3.04769], "nice": false, "zero": false}, "axis": null},
   "y": {"field": "v", "type": "quantitative", "scale": {"domain": [-409.9, 2550.5], "nice": false, "zero": false}, "axis": null},
   "text": {"field": "txt"}}},
  {"data": {"name": "nm"}, "transform": [{"filter": "datum.p === 'L1'"}], "mark": {"type": "text", "align": "left", "baseline": "alphabetic", "font": "Liberation Serif", "fontSize": 32, "color": "#000000"}, "encoding": {
   "x": {"field": "t", "type": "quantitative", "scale": {"domain": [-0.29571, 3.04769], "nice": false, "zero": false}, "axis": null},
   "y": {"field": "v", "type": "quantitative", "scale": {"domain": [-409.9, 2550.5], "nice": false, "zero": false}, "axis": null},
   "text": {"field": "txt"}}}
 ]},
 {"width": 701, "height": 129, "resolve": {"axis": {"x": "independent", "y": "independent"}}, "layer": [
  {"data": {"values": [{}]}, "mark": {"type": "rule", "color": "#111111", "strokeWidth": 1}, "encoding": {
   "x": {"datum": 0, "type": "quantitative", "scale": {"domain": [-0.29571, 3.04769], "nice": false, "zero": false}, "axis": {"orient": "top", "domain": false, "ticks": false, "labels": false, "title": "Max. 6.3e4 cps.", "titleX": 699, "titleY": 5.5, "titleAlign": "right", "titleBaseline": "middle", "titleFontSize": 11, "titleColor": "#000000"}},
   "x2": {"datum": 3.0},
   "y": {"datum": 0, "type": "quantitative", "scale": {"domain": [-13263, 82526], "nice": false, "zero": false}, "axis": null}}},
  {"data": {"values": [{}]}, "mark": {"type": "rule", "color": "#111111", "strokeWidth": 1}, "encoding": {
   "x": {"datum": 0, "type": "quantitative", "scale": {"domain": [-0.29571, 3.04769], "nice": false, "zero": false}, "axis": null},
   "y": {"datum": 0, "type": "quantitative", "scale": {"domain": [-13263, 82526], "nice": false, "zero": false}, "axis": null},
   "y2": {"datum": 63000}}},
  {"data": {"name": "L2"}, "mark": {"type": "line", "color": "#0000ff", "strokeWidth": 1, "invalid": "break-paths-show-domains"}, "encoding": {
   "x": {"field": "t", "type": "quantitative", "scale": {"domain": [-0.29571, 3.04769], "nice": false, "zero": false}, "axis": {"values": [0.1,0.2,0.3,0.4,0.5,0.6,0.7,0.8,0.9,1.0,1.1,1.2,1.3,1.4,1.5,1.6,1.7,1.8,1.9,2.0,2.1,2.2,2.3,2.4,2.5,2.6,2.7,2.8,2.9], "labelExpr": "abs(datum.value * 2 - round(datum.value * 2)) < 0.001 ? format(datum.value, '.1f') : ''", "offset": -18, "domain": false, "tickSize": 3, "labelPadding": -3, "labelFontSize": 9.5, "title": "Time, min", "titleFontSize": 9.5, "titleX": 376.5, "titleY": 14, "titleAlign": "center", "titleBaseline": "middle"}},
   "y": {"field": "v", "type": "quantitative", "scale": {"domain": [-13263, 82526], "nice": false, "zero": false}, "axis": {"values": [0,5000,10000,15000,20000,25000,30000,35000,40000,45000,50000,55000,60000], "labelExpr": "datum.value % 10000 === 0 ? (datum.value === 0 ? '0.0' : format(datum.value / 10000, '.1f') + 'e4') : ''", "offset": -62, "domain": false, "tickSize": 3, "labelPadding": 1, "title": "Intensity, cps", "titleFontSize": 8, "titleColor": "#333333", "titleX": -30, "titleY": 68, "titleAlign": "center", "titleBaseline": "middle", "titleAngle": 270}}}},
  {"data": {"values": [{}]}, "mark": {"type": "point", "shape": "triangle-right", "filled": true, "size": 28, "opacity": 1, "xOffset": -2}, "encoding": {
   "x": {"datum": 0, "type": "quantitative", "scale": {"domain": [-0.29571, 3.04769], "nice": false, "zero": false}, "axis": null},
   "y": {"datum": 2960, "type": "quantitative", "scale": {"domain": [-13263, 82526], "nice": false, "zero": false}, "axis": null},
   "color": {"datum": "XIC of +MRM (4 pairs): 138.100/74.000 Da  from Sample 5 (A) of .wiff (Turbo Spray)", "type": "nominal", "scale": {"range": ["#0000ff"]}, "legend": {"title": null}}}},
  {"data": {"name": "pk"}, "transform": [{"filter": "datum.p === 'L2'"}], "mark": {"type": "text", "baseline": "bottom", "dy": -1, "fontSize": 10, "color": "#111111"}, "encoding": {
   "x": {"field": "t", "type": "quantitative", "scale": {"domain": [-0.29571, 3.04769], "nice": false, "zero": false}, "axis": null},
   "y": {"field": "v", "type": "quantitative", "scale": {"domain": [-13263, 82526], "nice": false, "zero": false}, "axis": null},
   "text": {"field": "txt"}}},
  {"data": {"name": "nm"}, "transform": [{"filter": "datum.p === 'L2'"}], "mark": {"type": "text", "align": "left", "baseline": "alphabetic", "font": "Liberation Serif", "fontSize": 32, "color": "#000000"}, "encoding": {
   "x": {"field": "t", "type": "quantitative", "scale": {"domain": [-0.29571, 3.04769], "nice": false, "zero": false}, "axis": null},
   "y": {"field": "v", "type": "quantitative", "scale": {"domain": [-13263, 82526], "nice": false, "zero": false}, "axis": null},
   "text": {"field": "txt"}}}
 ]},
 {"width": 701, "height": 129, "resolve": {"axis": {"x": "independent", "y": "independent"}}, "layer": [
  {"data": {"values": [{}]}, "mark": {"type": "rule", "color": "#111111", "strokeWidth": 1}, "encoding": {
   "x": {"datum": 0, "type": "quantitative", "scale": {"domain": [-0.29571, 3.04769], "nice": false, "zero": false}, "axis": {"orient": "top", "domain": false, "ticks": false, "labels": false, "title": "Max. 2573.3 cps.", "titleX": 699, "titleY": 5.5, "titleAlign": "right", "titleBaseline": "middle", "titleFontSize": 11, "titleColor": "#000000"}},
   "x2": {"datum": 3.0},
   "y": {"datum": 0, "type": "quantitative", "scale": {"domain": [-541.7, 3370.8], "nice": false, "zero": false}, "axis": null}}},
  {"data": {"values": [{}]}, "mark": {"type": "rule", "color": "#111111", "strokeWidth": 1}, "encoding": {
   "x": {"datum": 0, "type": "quantitative", "scale": {"domain": [-0.29571, 3.04769], "nice": false, "zero": false}, "axis": null},
   "y": {"datum": 0, "type": "quantitative", "scale": {"domain": [-541.7, 3370.8], "nice": false, "zero": false}, "axis": null},
   "y2": {"datum": 2573.3}}},
  {"data": {"name": "L3"}, "mark": {"type": "line", "color": "#0000ff", "strokeWidth": 1, "invalid": "break-paths-show-domains"}, "encoding": {
   "x": {"field": "t", "type": "quantitative", "scale": {"domain": [-0.29571, 3.04769], "nice": false, "zero": false}, "axis": {"values": [0.1,0.2,0.3,0.4,0.5,0.6,0.7,0.8,0.9,1.0,1.1,1.2,1.3,1.4,1.5,1.6,1.7,1.8,1.9,2.0,2.1,2.2,2.3,2.4,2.5,2.6,2.7,2.8,2.9], "labelExpr": "abs(datum.value * 2 - round(datum.value * 2)) < 0.001 ? format(datum.value, '.1f') : ''", "offset": -18, "domain": false, "tickSize": 3, "labelPadding": -3, "labelFontSize": 9.5, "title": "Time, min", "titleFontSize": 9.5, "titleX": 376.5, "titleY": 14, "titleAlign": "center", "titleBaseline": "middle"}},
   "y": {"field": "v", "type": "quantitative", "scale": {"domain": [-541.7, 3370.8], "nice": false, "zero": false}, "axis": {"values": [0,100,200,300,400,500,600,700,800,900,1000,1100,1200,1300,1400,1500,1600,1700,1800,1900,2000,2100,2200,2300,2400,2500], "labelExpr": "datum.value % 500 === 0 ? format(datum.value, 'd') : ''", "offset": -62, "domain": false, "tickSize": 3, "labelPadding": 1, "title": "Intensity, cps", "titleFontSize": 8, "titleColor": "#333333", "titleX": -30, "titleY": 68, "titleAlign": "center", "titleBaseline": "middle", "titleAngle": 270}}}},
  {"data": {"values": [{}]}, "mark": {"type": "point", "shape": "triangle-right", "filled": true, "size": 28, "opacity": 1, "xOffset": -2}, "encoding": {
   "x": {"datum": 0, "type": "quantitative", "scale": {"domain": [-0.29571, 3.04769], "nice": false, "zero": false}, "axis": null},
   "y": {"datum": 121, "type": "quantitative", "scale": {"domain": [-541.7, 3370.8], "nice": false, "zero": false}, "axis": null},
   "color": {"datum": "XIC of +MRM (4 pairs): 175.100/70.000 Da  from Sample 5 (A) of .wiff (Turbo Spray)", "type": "nominal", "scale": {"range": ["#0000ff"]}, "legend": {"title": null}}}},
  {"data": {"name": "pk"}, "transform": [{"filter": "datum.p === 'L3'"}], "mark": {"type": "text", "baseline": "bottom", "dy": -1, "fontSize": 10, "color": "#111111"}, "encoding": {
   "x": {"field": "t", "type": "quantitative", "scale": {"domain": [-0.29571, 3.04769], "nice": false, "zero": false}, "axis": null},
   "y": {"field": "v", "type": "quantitative", "scale": {"domain": [-541.7, 3370.8], "nice": false, "zero": false}, "axis": null},
   "text": {"field": "txt"}}},
  {"data": {"name": "nm"}, "transform": [{"filter": "datum.p === 'L3'"}], "mark": {"type": "text", "align": "left", "baseline": "alphabetic", "font": "Liberation Serif", "fontSize": 32, "color": "#000000"}, "encoding": {
   "x": {"field": "t", "type": "quantitative", "scale": {"domain": [-0.29571, 3.04769], "nice": false, "zero": false}, "axis": null},
   "y": {"field": "v", "type": "quantitative", "scale": {"domain": [-541.7, 3370.8], "nice": false, "zero": false}, "axis": null},
   "text": {"field": "txt"}}}
 ]},
 {"width": 701, "height": 129, "resolve": {"axis": {"x": "independent", "y": "independent"}}, "layer": [
  {"data": {"values": [{}]}, "mark": {"type": "rule", "color": "#111111", "strokeWidth": 1}, "encoding": {
   "x": {"datum": 0, "type": "quantitative", "scale": {"domain": [-0.29571, 3.04769], "nice": false, "zero": false}, "axis": {"orient": "top", "domain": false, "ticks": false, "labels": false, "title": "Max. 1.1e5 cps.", "titleX": 699, "titleY": 5.5, "titleAlign": "right", "titleBaseline": "middle", "titleFontSize": 11, "titleColor": "#000000"}},
   "x2": {"datum": 3.0},
   "y": {"datum": 0, "type": "quantitative", "scale": {"domain": [-22168, 137937], "nice": false, "zero": false}, "axis": null}}},
  {"data": {"values": [{}]}, "mark": {"type": "rule", "color": "#111111", "strokeWidth": 1}, "encoding": {
   "x": {"datum": 0, "type": "quantitative", "scale": {"domain": [-0.29571, 3.04769], "nice": false, "zero": false}, "axis": null},
   "y": {"datum": 0, "type": "quantitative", "scale": {"domain": [-22168, 137937], "nice": false, "zero": false}, "axis": null},
   "y2": {"datum": 105300}}},
  {"data": {"name": "L4"}, "mark": {"type": "line", "color": "#0000ff", "strokeWidth": 1, "invalid": "break-paths-show-domains"}, "encoding": {
   "x": {"field": "t", "type": "quantitative", "scale": {"domain": [-0.29571, 3.04769], "nice": false, "zero": false}, "axis": {"values": [0.1,0.2,0.3,0.4,0.5,0.6,0.7,0.8,0.9,1.0,1.1,1.2,1.3,1.4,1.5,1.6,1.7,1.8,1.9,2.0,2.1,2.2,2.3,2.4,2.5,2.6,2.7,2.8,2.9], "labelExpr": "abs(datum.value * 2 - round(datum.value * 2)) < 0.001 ? format(datum.value, '.1f') : ''", "offset": -18, "domain": false, "tickSize": 3, "labelPadding": -3, "labelFontSize": 9.5, "title": "Time, min", "titleFontSize": 9.5, "titleX": 376.5, "titleY": 14, "titleAlign": "center", "titleBaseline": "middle"}},
   "y": {"field": "v", "type": "quantitative", "scale": {"domain": [-22168, 137937], "nice": false, "zero": false}, "axis": {"values": [0,10000,20000,30000,40000,50000,60000,70000,80000,90000,100000], "labelExpr": "datum.value % 20000 === 0 ? (datum.value === 0 ? '0.00' : (datum.value === 100000 ? '1.00e5' : format(datum.value / 10000, '.2f') + 'e4')) : ''", "offset": -62, "domain": false, "tickSize": 3, "labelPadding": 1, "title": "Intensity, cps", "titleFontSize": 8, "titleColor": "#333333", "titleX": -30, "titleY": 68, "titleAlign": "center", "titleBaseline": "middle", "titleAngle": 270}}}},
  {"data": {"values": [{}]}, "mark": {"type": "point", "shape": "triangle-right", "filled": true, "size": 28, "opacity": 1, "xOffset": -2}, "encoding": {
   "x": {"datum": 0, "type": "quantitative", "scale": {"domain": [-0.29571, 3.04769], "nice": false, "zero": false}, "axis": null},
   "y": {"datum": 4950, "type": "quantitative", "scale": {"domain": [-22168, 137937], "nice": false, "zero": false}, "axis": null},
   "color": {"datum": "XIC of +MRM (4 pairs): 181.100/74.000 Da  from Sample 5 (A) of .wiff (Turbo Spray)", "type": "nominal", "scale": {"range": ["#0000ff"]}, "legend": {"title": null}}}},
  {"data": {"name": "pk"}, "transform": [{"filter": "datum.p === 'L4'"}], "mark": {"type": "text", "baseline": "bottom", "dy": -1, "fontSize": 10, "color": "#111111"}, "encoding": {
   "x": {"field": "t", "type": "quantitative", "scale": {"domain": [-0.29571, 3.04769], "nice": false, "zero": false}, "axis": null},
   "y": {"field": "v", "type": "quantitative", "scale": {"domain": [-22168, 137937], "nice": false, "zero": false}, "axis": null},
   "text": {"field": "txt"}}},
  {"data": {"name": "nm"}, "transform": [{"filter": "datum.p === 'L4'"}], "mark": {"type": "text", "align": "left", "baseline": "alphabetic", "font": "Liberation Serif", "fontSize": 32, "color": "#000000"}, "encoding": {
   "x": {"field": "t", "type": "quantitative", "scale": {"domain": [-0.29571, 3.04769], "nice": false, "zero": false}, "axis": null},
   "y": {"field": "v", "type": "quantitative", "scale": {"domain": [-22168, 137937], "nice": false, "zero": false}, "axis": null},
   "text": {"field": "txt"}}}
 ]}
], "spacing": 0, "bounds": "flush", "resolve": {"scale": {"color": "independent", "x": "independent", "y": "independent"}, "legend": {"color": "independent"}}},
{"vconcat": [
 {"width": 714, "height": 129, "resolve": {"axis": {"x": "independent", "y": "independent"}}, "layer": [
  {"data": {"values": [{}]}, "mark": {"type": "rule", "color": "#111111", "strokeWidth": 1}, "encoding": {
   "x": {"datum": 0, "type": "quantitative", "scale": {"domain": [-0.39019, 4.03196], "nice": false, "zero": false}, "axis": {"orient": "top", "domain": false, "ticks": false, "labels": false, "title": "Max. 1580.0 cps.", "titleX": 712, "titleY": 5.5, "titleAlign": "right", "titleBaseline": "middle", "titleFontSize": 11, "titleColor": "#000000"}},
   "x2": {"datum": 3.97},
   "y": {"datum": 0, "type": "quantitative", "scale": {"domain": [-332.6, 2069.7], "nice": false, "zero": false}, "axis": null}}},
  {"data": {"values": [{}]}, "mark": {"type": "rule", "color": "#111111", "strokeWidth": 1}, "encoding": {
   "x": {"datum": 0, "type": "quantitative", "scale": {"domain": [-0.39019, 4.03196], "nice": false, "zero": false}, "axis": null},
   "y": {"datum": 0, "type": "quantitative", "scale": {"domain": [-332.6, 2069.7], "nice": false, "zero": false}, "axis": null},
   "y2": {"datum": 1580}}},
  {"data": {"name": "R1"}, "mark": {"type": "line", "color": "#0000ff", "strokeWidth": 1, "invalid": "break-paths-show-domains"}, "encoding": {
   "x": {"field": "t", "type": "quantitative", "scale": {"domain": [-0.39019, 4.03196], "nice": false, "zero": false}, "axis": {"values": [0.1,0.2,0.3,0.4,0.5,0.6,0.7,0.8,0.9,1.0,1.1,1.2,1.3,1.4,1.5,1.6,1.7,1.8,1.9,2.0,2.1,2.2,2.3,2.4,2.5,2.6,2.7,2.8,2.9,3.0,3.1,3.2,3.3,3.4,3.5,3.6,3.7,3.8,3.9], "labelExpr": "abs(datum.value * 2 - round(datum.value * 2)) < 0.001 ? format(datum.value, '.1f') : ''", "offset": -18, "domain": false, "tickSize": 3, "labelPadding": -3, "labelFontSize": 9.5, "title": "Time, min", "titleFontSize": 9.5, "titleX": 383.5, "titleY": 14, "titleAlign": "center", "titleBaseline": "middle"}},
   "y": {"field": "v", "type": "quantitative", "scale": {"domain": [-332.6, 2069.7], "nice": false, "zero": false}, "axis": {"values": [0,100,200,300,400,500,600,700,800,900,1000,1100,1200,1300,1400,1500], "labelExpr": "datum.value % 500 === 0 ? format(datum.value, 'd') : ''", "offset": -63, "domain": false, "tickSize": 3, "labelPadding": 1, "title": "Intensity, cps", "titleFontSize": 8, "titleColor": "#333333", "titleX": -30, "titleY": 68, "titleAlign": "center", "titleBaseline": "middle", "titleAngle": 270}}}},
  {"data": {"values": [{}]}, "mark": {"type": "point", "shape": "triangle-right", "filled": true, "size": 28, "opacity": 1, "xOffset": -2}, "encoding": {
   "x": {"datum": 0, "type": "quantitative", "scale": {"domain": [-0.39019, 4.03196], "nice": false, "zero": false}, "axis": null},
   "y": {"datum": 74, "type": "quantitative", "scale": {"domain": [-332.6, 2069.7], "nice": false, "zero": false}, "axis": null},
   "color": {"datum": "XIC of +MRM (4 pairs): 244.100/112.000 Da ID: Cytidine from Sample 54 (A) of Curve21-...", "type": "nominal", "scale": {"range": ["#0000ff"]}, "legend": {"title": null}}}},
  {"data": {"name": "pk"}, "transform": [{"filter": "datum.p === 'R1'"}], "mark": {"type": "text", "baseline": "bottom", "dy": -1, "fontSize": 10, "color": "#111111"}, "encoding": {
   "x": {"field": "t", "type": "quantitative", "scale": {"domain": [-0.39019, 4.03196], "nice": false, "zero": false}, "axis": null},
   "y": {"field": "v", "type": "quantitative", "scale": {"domain": [-332.6, 2069.7], "nice": false, "zero": false}, "axis": null},
   "text": {"field": "txt"}}},
  {"data": {"name": "nm"}, "transform": [{"filter": "datum.p === 'R1'"}], "mark": {"type": "text", "align": "left", "baseline": "alphabetic", "font": "Liberation Serif", "fontSize": 23, "fontWeight": "bold", "color": "#000000"}, "encoding": {
   "x": {"field": "t", "type": "quantitative", "scale": {"domain": [-0.39019, 4.03196], "nice": false, "zero": false}, "axis": null},
   "y": {"field": "v", "type": "quantitative", "scale": {"domain": [-332.6, 2069.7], "nice": false, "zero": false}, "axis": null},
   "text": {"field": "txt"}}}
 ]},
 {"width": 714, "height": 129, "resolve": {"axis": {"x": "independent", "y": "independent"}}, "layer": [
  {"data": {"values": [{}]}, "mark": {"type": "rule", "color": "#111111", "strokeWidth": 1}, "encoding": {
   "x": {"datum": 0, "type": "quantitative", "scale": {"domain": [-0.39019, 4.03196], "nice": false, "zero": false}, "axis": {"orient": "top", "domain": false, "ticks": false, "labels": false, "title": "Max. 2550.0 cps.", "titleX": 712, "titleY": 5.5, "titleAlign": "right", "titleBaseline": "middle", "titleFontSize": 11, "titleColor": "#000000"}},
   "x2": {"datum": 3.97},
   "y": {"datum": 0, "type": "quantitative", "scale": {"domain": [-536.8, 3340.3], "nice": false, "zero": false}, "axis": null}}},
  {"data": {"values": [{}]}, "mark": {"type": "rule", "color": "#111111", "strokeWidth": 1}, "encoding": {
   "x": {"datum": 0, "type": "quantitative", "scale": {"domain": [-0.39019, 4.03196], "nice": false, "zero": false}, "axis": null},
   "y": {"datum": 0, "type": "quantitative", "scale": {"domain": [-536.8, 3340.3], "nice": false, "zero": false}, "axis": null},
   "y2": {"datum": 2550}}},
  {"data": {"name": "R2"}, "mark": {"type": "line", "color": "#0000ff", "strokeWidth": 1, "invalid": "break-paths-show-domains"}, "encoding": {
   "x": {"field": "t", "type": "quantitative", "scale": {"domain": [-0.39019, 4.03196], "nice": false, "zero": false}, "axis": {"values": [0.1,0.2,0.3,0.4,0.5,0.6,0.7,0.8,0.9,1.0,1.1,1.2,1.3,1.4,1.5,1.6,1.7,1.8,1.9,2.0,2.1,2.2,2.3,2.4,2.5,2.6,2.7,2.8,2.9,3.0,3.1,3.2,3.3,3.4,3.5,3.6,3.7,3.8,3.9], "labelExpr": "abs(datum.value * 2 - round(datum.value * 2)) < 0.001 ? format(datum.value, '.1f') : ''", "offset": -18, "domain": false, "tickSize": 3, "labelPadding": -3, "labelFontSize": 9.5, "title": "Time, min", "titleFontSize": 9.5, "titleX": 383.5, "titleY": 14, "titleAlign": "center", "titleBaseline": "middle"}},
   "y": {"field": "v", "type": "quantitative", "scale": {"domain": [-536.8, 3340.3], "nice": false, "zero": false}, "axis": {"values": [0,100,200,300,400,500,600,700,800,900,1000,1100,1200,1300,1400,1500,1600,1700,1800,1900,2000,2100,2200,2300,2400,2500], "labelExpr": "datum.value % 500 === 0 ? format(datum.value, 'd') : ''", "offset": -63, "domain": false, "tickSize": 3, "labelPadding": 1, "title": "Intensity, cps", "titleFontSize": 8, "titleColor": "#333333", "titleX": -30, "titleY": 68, "titleAlign": "center", "titleBaseline": "middle", "titleAngle": 270}}}},
  {"data": {"values": [{}]}, "mark": {"type": "point", "shape": "triangle-right", "filled": true, "size": 28, "opacity": 1, "xOffset": -2}, "encoding": {
   "x": {"datum": 0, "type": "quantitative", "scale": {"domain": [-0.39019, 4.03196], "nice": false, "zero": false}, "axis": null},
   "y": {"datum": 120, "type": "quantitative", "scale": {"domain": [-536.8, 3340.3], "nice": false, "zero": false}, "axis": null},
   "color": {"datum": "XIC of +MRM (4 pairs): 245.200/113.200 Da ID: Uridine from Sample 54 (A) of Curve21-...", "type": "nominal", "scale": {"range": ["#0000ff"]}, "legend": {"title": null}}}},
  {"data": {"name": "pk"}, "transform": [{"filter": "datum.p === 'R2'"}], "mark": {"type": "text", "baseline": "bottom", "dy": -1, "fontSize": 10, "color": "#111111"}, "encoding": {
   "x": {"field": "t", "type": "quantitative", "scale": {"domain": [-0.39019, 4.03196], "nice": false, "zero": false}, "axis": null},
   "y": {"field": "v", "type": "quantitative", "scale": {"domain": [-536.8, 3340.3], "nice": false, "zero": false}, "axis": null},
   "text": {"field": "txt"}}},
  {"data": {"name": "nm"}, "transform": [{"filter": "datum.p === 'R2'"}], "mark": {"type": "text", "align": "left", "baseline": "alphabetic", "font": "Liberation Serif", "fontSize": 23, "fontWeight": "bold", "color": "#000000"}, "encoding": {
   "x": {"field": "t", "type": "quantitative", "scale": {"domain": [-0.39019, 4.03196], "nice": false, "zero": false}, "axis": null},
   "y": {"field": "v", "type": "quantitative", "scale": {"domain": [-536.8, 3340.3], "nice": false, "zero": false}, "axis": null},
   "text": {"field": "txt"}}}
 ]},
 {"width": 714, "height": 129, "resolve": {"axis": {"x": "independent", "y": "independent"}}, "layer": [
  {"data": {"values": [{}]}, "mark": {"type": "rule", "color": "#111111", "strokeWidth": 1}, "encoding": {
   "x": {"datum": 0, "type": "quantitative", "scale": {"domain": [-0.39019, 4.03196], "nice": false, "zero": false}, "axis": {"orient": "top", "domain": false, "ticks": false, "labels": false, "title": "Max. 2.6e5 cps.", "titleX": 712, "titleY": 5.5, "titleAlign": "right", "titleBaseline": "middle", "titleFontSize": 11, "titleColor": "#000000"}},
   "x2": {"datum": 3.97},
   "y": {"datum": 0, "type": "quantitative", "scale": {"domain": [-53684, 334035], "nice": false, "zero": false}, "axis": null}}},
  {"data": {"values": [{}]}, "mark": {"type": "rule", "color": "#111111", "strokeWidth": 1}, "encoding": {
   "x": {"datum": 0, "type": "quantitative", "scale": {"domain": [-0.39019, 4.03196], "nice": false, "zero": false}, "axis": null},
   "y": {"datum": 0, "type": "quantitative", "scale": {"domain": [-53684, 334035], "nice": false, "zero": false}, "axis": null},
   "y2": {"datum": 255000}}},
  {"data": {"name": "R3"}, "mark": {"type": "line", "color": "#0000ff", "strokeWidth": 1, "invalid": "break-paths-show-domains"}, "encoding": {
   "x": {"field": "t", "type": "quantitative", "scale": {"domain": [-0.39019, 4.03196], "nice": false, "zero": false}, "axis": {"values": [0.1,0.2,0.3,0.4,0.5,0.6,0.7,0.8,0.9,1.0,1.1,1.2,1.3,1.4,1.5,1.6,1.7,1.8,1.9,2.0,2.1,2.2,2.3,2.4,2.5,2.6,2.7,2.8,2.9,3.0,3.1,3.2,3.3,3.4,3.5,3.6,3.7,3.8,3.9], "labelExpr": "abs(datum.value * 2 - round(datum.value * 2)) < 0.001 ? format(datum.value, '.1f') : ''", "offset": -18, "domain": false, "tickSize": 3, "labelPadding": -3, "labelFontSize": 9.5, "title": "Time, min", "titleFontSize": 9.5, "titleX": 383.5, "titleY": 14, "titleAlign": "center", "titleBaseline": "middle"}},
   "y": {"field": "v", "type": "quantitative", "scale": {"domain": [-53684, 334035], "nice": false, "zero": false}, "axis": {"values": [0,25000,50000,75000,100000,125000,150000,175000,200000,225000,250000], "labelExpr": "datum.value % 50000 === 0 ? (datum.value === 0 ? '0.0' : (datum.value < 100000 ? format(datum.value / 10000, '.1f') + 'e4' : format(datum.value / 100000, '.1f') + 'e5')) : ''", "offset": -63, "domain": false, "tickSize": 3, "labelPadding": 1, "title": "Intensity, cps", "titleFontSize": 8, "titleColor": "#333333", "titleX": -30, "titleY": 68, "titleAlign": "center", "titleBaseline": "middle", "titleAngle": 270}}}},
  {"data": {"values": [{}]}, "mark": {"type": "point", "shape": "triangle-right", "filled": true, "size": 28, "opacity": 1, "xOffset": -2}, "encoding": {
   "x": {"datum": 0, "type": "quantitative", "scale": {"domain": [-0.39019, 4.03196], "nice": false, "zero": false}, "axis": null},
   "y": {"datum": 12000, "type": "quantitative", "scale": {"domain": [-53684, 334035], "nice": false, "zero": false}, "axis": null},
   "color": {"datum": "XIC of +MRM (4 pairs): 256.100/119.100 Da ID: Uridine-13C9,15N2 from Sample 54 (A) of...", "type": "nominal", "scale": {"range": ["#0000ff"]}, "legend": {"title": null}}}},
  {"data": {"name": "pk"}, "transform": [{"filter": "datum.p === 'R3'"}], "mark": {"type": "text", "baseline": "bottom", "dy": -1, "fontSize": 10, "color": "#111111"}, "encoding": {
   "x": {"field": "t", "type": "quantitative", "scale": {"domain": [-0.39019, 4.03196], "nice": false, "zero": false}, "axis": null},
   "y": {"field": "v", "type": "quantitative", "scale": {"domain": [-53684, 334035], "nice": false, "zero": false}, "axis": null},
   "text": {"field": "txt"}}},
  {"data": {"name": "nm"}, "transform": [{"filter": "datum.p === 'R3'"}], "mark": {"type": "text", "align": "left", "baseline": "alphabetic", "font": "Liberation Serif", "fontSize": 23, "fontWeight": "bold", "color": "#000000"}, "encoding": {
   "x": {"field": "t", "type": "quantitative", "scale": {"domain": [-0.39019, 4.03196], "nice": false, "zero": false}, "axis": null},
   "y": {"field": "v", "type": "quantitative", "scale": {"domain": [-53684, 334035], "nice": false, "zero": false}, "axis": null},
   "text": {"field": "txt"}}}
 ]},
 {"width": 714, "height": 129, "resolve": {"axis": {"x": "independent", "y": "independent"}}, "layer": [
  {"data": {"values": [{}]}, "mark": {"type": "rule", "color": "#111111", "strokeWidth": 1}, "encoding": {
   "x": {"datum": 0, "type": "quantitative", "scale": {"domain": [-0.39019, 4.03196], "nice": false, "zero": false}, "axis": {"orient": "top", "domain": false, "ticks": false, "labels": false, "title": "Max. 2.6e5 cps.", "titleX": 712, "titleY": 5.5, "titleAlign": "right", "titleBaseline": "middle", "titleFontSize": 11, "titleColor": "#000000"}},
   "x2": {"datum": 3.97},
   "y": {"datum": 0, "type": "quantitative", "scale": {"domain": [-54105, 336655], "nice": false, "zero": false}, "axis": null}}},
  {"data": {"values": [{}]}, "mark": {"type": "rule", "color": "#111111", "strokeWidth": 1}, "encoding": {
   "x": {"datum": 0, "type": "quantitative", "scale": {"domain": [-0.39019, 4.03196], "nice": false, "zero": false}, "axis": null},
   "y": {"datum": 0, "type": "quantitative", "scale": {"domain": [-54105, 336655], "nice": false, "zero": false}, "axis": null},
   "y2": {"datum": 257000}}},
  {"data": {"name": "R4"}, "mark": {"type": "line", "color": "#0000ff", "strokeWidth": 1, "invalid": "break-paths-show-domains"}, "encoding": {
   "x": {"field": "t", "type": "quantitative", "scale": {"domain": [-0.39019, 4.03196], "nice": false, "zero": false}, "axis": {"values": [0.1,0.2,0.3,0.4,0.5,0.6,0.7,0.8,0.9,1.0,1.1,1.2,1.3,1.4,1.5,1.6,1.7,1.8,1.9,2.0,2.1,2.2,2.3,2.4,2.5,2.6,2.7,2.8,2.9,3.0,3.1,3.2,3.3,3.4,3.5,3.6,3.7,3.8,3.9], "labelExpr": "abs(datum.value * 2 - round(datum.value * 2)) < 0.001 ? format(datum.value, '.1f') : ''", "offset": -18, "domain": false, "tickSize": 3, "labelPadding": -3, "labelFontSize": 9.5, "title": "Time, min", "titleFontSize": 9.5, "titleX": 383.5, "titleY": 14, "titleAlign": "center", "titleBaseline": "middle"}},
   "y": {"field": "v", "type": "quantitative", "scale": {"domain": [-54105, 336655], "nice": false, "zero": false}, "axis": {"values": [0,25000,50000,75000,100000,125000,150000,175000,200000,225000,250000], "labelExpr": "datum.value % 50000 === 0 ? (datum.value === 0 ? '0.0' : (datum.value < 100000 ? format(datum.value / 10000, '.1f') + 'e4' : format(datum.value / 100000, '.1f') + 'e5')) : ''", "offset": -63, "domain": false, "tickSize": 3, "labelPadding": 1, "title": "Intensity, cps", "titleFontSize": 8, "titleColor": "#333333", "titleX": -30, "titleY": 68, "titleAlign": "center", "titleBaseline": "middle", "titleAngle": 270}}}},
  {"data": {"values": [{}]}, "mark": {"type": "point", "shape": "triangle-right", "filled": true, "size": 28, "opacity": 1, "xOffset": -2}, "encoding": {
   "x": {"datum": 0, "type": "quantitative", "scale": {"domain": [-0.39019, 4.03196], "nice": false, "zero": false}, "axis": null},
   "y": {"datum": 12000, "type": "quantitative", "scale": {"domain": [-54105, 336655], "nice": false, "zero": false}, "axis": null},
   "color": {"datum": "XIC of +MRM (4 pairs): 256.200/119.000 Da ID: Cytidine-13C9,15N3 from Sample 54 (A) ...", "type": "nominal", "scale": {"range": ["#0000ff"]}, "legend": {"title": null}}}},
  {"data": {"name": "pk"}, "transform": [{"filter": "datum.p === 'R4'"}], "mark": {"type": "text", "baseline": "bottom", "dy": -1, "fontSize": 10, "color": "#111111"}, "encoding": {
   "x": {"field": "t", "type": "quantitative", "scale": {"domain": [-0.39019, 4.03196], "nice": false, "zero": false}, "axis": null},
   "y": {"field": "v", "type": "quantitative", "scale": {"domain": [-54105, 336655], "nice": false, "zero": false}, "axis": null},
   "text": {"field": "txt"}}},
  {"data": {"name": "nm"}, "transform": [{"filter": "datum.p === 'R4'"}], "mark": {"type": "text", "align": "left", "baseline": "alphabetic", "font": "Liberation Serif", "fontSize": 23, "fontWeight": "bold", "color": "#000000"}, "encoding": {
   "x": {"field": "t", "type": "quantitative", "scale": {"domain": [-0.39019, 4.03196], "nice": false, "zero": false}, "axis": null},
   "y": {"field": "v", "type": "quantitative", "scale": {"domain": [-54105, 336655], "nice": false, "zero": false}, "axis": null},
   "text": {"field": "txt"}}}
 ]}
], "spacing": 0, "bounds": "flush", "resolve": {"scale": {"color": "independent", "x": "independent", "y": "independent"}, "legend": {"color": "independent"}}}
],
"spacing": 43,
"resolve": {"scale": {"color": "independent", "x": "independent", "y": "independent"}, "legend": {"color": "independent"}}
}
